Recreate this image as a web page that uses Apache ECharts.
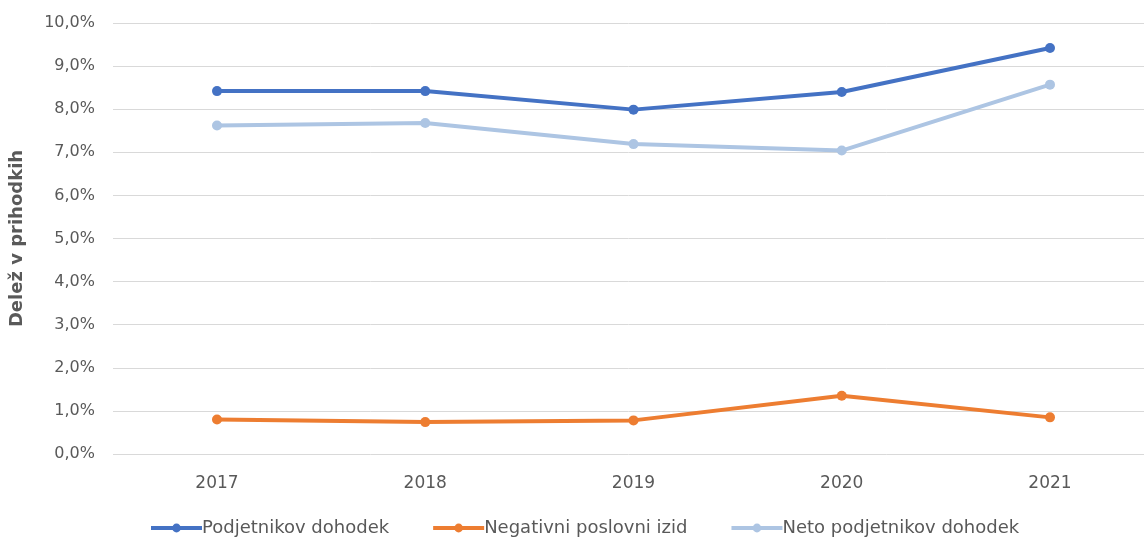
<!DOCTYPE html>
<html><head><meta charset="utf-8">
<script src="https://cdn.jsdelivr.net/npm/echarts@6/dist/echarts.min.js"></script>
<style>html,body{margin:0;padding:0;background:#fff}#c{width:1144px;height:541px}</style>
</head><body><div id="c"></div>
<script>
const years = ['2017','2018','2019','2020','2021'];
const podjetnikovDohodek = [8.42, 8.42, 7.99, 8.40, 9.42];
const negativniPoslovniIzid = [0.80, 0.74, 0.78, 1.35, 0.85];
const netoPodjetnikovDohodek = [7.62, 7.68, 7.19, 7.04, 8.57];
const yTicks = [0,1,2,3,4,5,6,7,8,9,10];

const ff = '"DejaVu Sans", sans-serif';
const txt = '#595959';
const chart = echarts.init(document.getElementById('c'));
function ser(name, data, color){
  return {name, type:'line', data, color, symbol:'circle', symbolSize:10,
    xAxisIndex:1, yAxisIndex:1,
    lineStyle:{width:4, color}, itemStyle:{color}};
}
const yMin = yTicks[0], yMax = yTicks[yTicks.length-1];
chart.setOption({
  animation:false,
  textStyle:{fontFamily:ff},
  grid:[
    {left:113, right:0, top:23, bottom:87},
    {left:217, right:94, top:23, bottom:87}
  ],
  legend:{bottom:4, left:149, padding:0, itemWidth:51, itemHeight:11, itemGap:42,
    lineStyle:{width:4},
    textStyle:{fontSize:18, color:txt, fontFamily:ff, padding:[0,0,0,-5]},
    data:['Podjetnikov dohodek','Negativni poslovni izid','Neto podjetnikov dohodek']},
  xAxis:[
    {type:'value', gridIndex:0, show:false, min:0, max:1},
    {type:'category', gridIndex:1, data:years, boundaryGap:false,
     axisLine:{show:false}, axisTick:{show:false},
     axisLabel:{fontSize:17, color:txt, margin:21, fontFamily:ff}}
  ],
  yAxis:[
    {type:'value', gridIndex:0, min:yMin, max:yMax, interval:1,
     name:'Delež v prihodkih', nameLocation:'middle', nameGap:87, nameRotate:90,
     nameTextStyle:{fontSize:18, fontWeight:'bold', color:txt, fontFamily:ff},
     axisLine:{show:false}, axisTick:{show:false},
     axisLabel:{fontSize:16, color:txt, margin:18, fontFamily:ff,
       formatter:v=>v.toFixed(1).replace('.',',')+'%'},
     splitLine:{lineStyle:{color:'#d9d9d9', width:1}}},
    {type:'value', gridIndex:1, min:yMin, max:yMax, interval:1, show:false,
     splitLine:{show:false}}
  ],
  series:[
    ser('Podjetnikov dohodek', podjetnikovDohodek, '#4472C4'),
    ser('Negativni poslovni izid', negativniPoslovniIzid, '#ED7D31'),
    ser('Neto podjetnikov dohodek', netoPodjetnikovDohodek, '#ADC5E3')
  ]
});
</script></body></html>
